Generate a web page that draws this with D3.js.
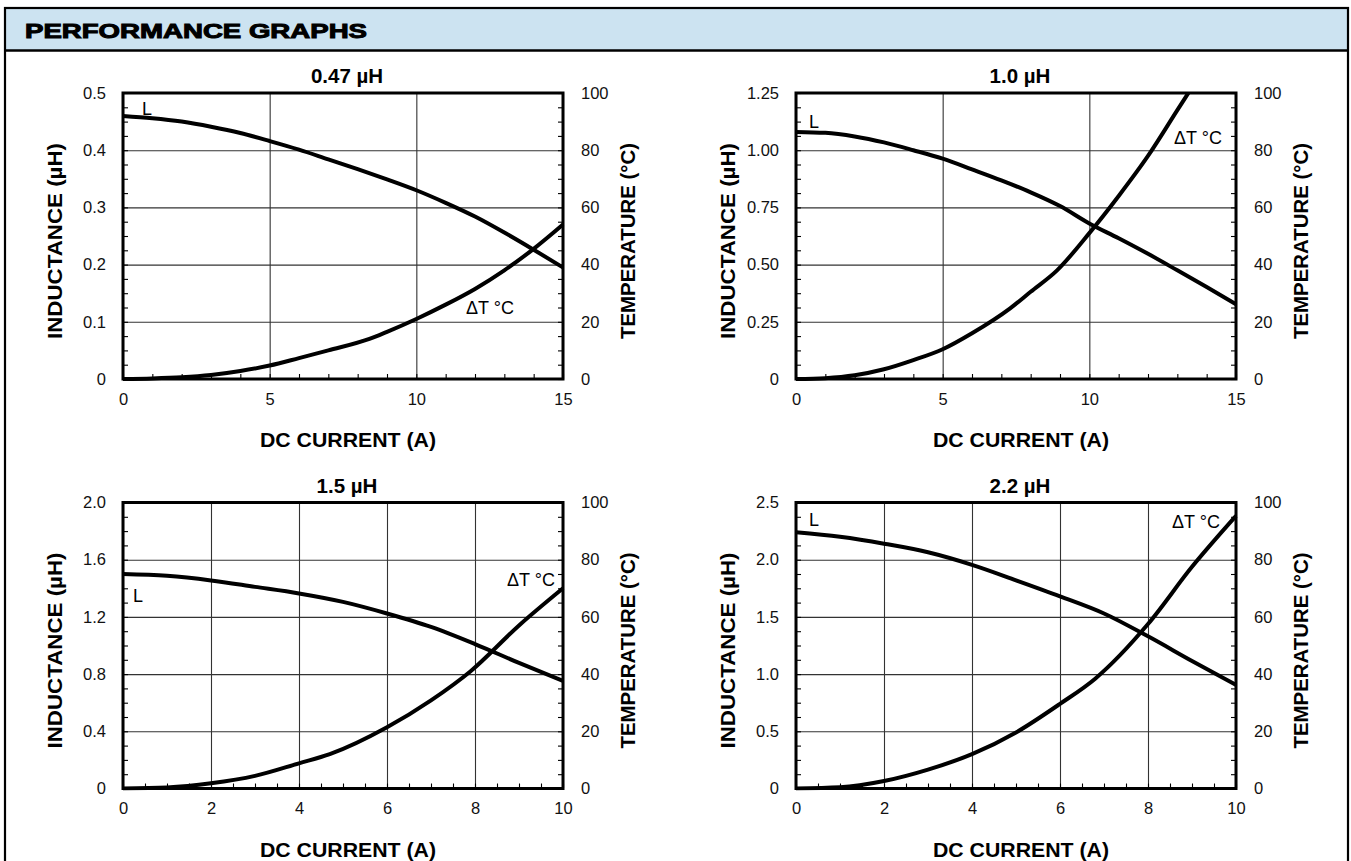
<!DOCTYPE html>
<html>
<head>
<meta charset="utf-8">
<script src="https://cdn.jsdelivr.net/npm/d3@7"></script>
<style>
  body { margin: 0; background: #fff; }
  svg { display: block; font-family: "Liberation Sans", Arial, Helvetica, sans-serif; }
</style>
</head>
<body>
<svg id="chart" width="1351" height="861"></svg>
<script>
// ---- data ----
// 0.47 uH
const amps047L = [0, 1, 2, 3, 4, 5, 6, 7, 8, 9, 10, 11, 12, 13, 14, 15];
const ind047 = [0.460, 0.456, 0.450, 0.441, 0.430, 0.416, 0.401, 0.384, 0.367, 0.349, 0.330, 0.308, 0.284, 0.256, 0.226, 0.195];
const amps047T = [0, 1, 2, 3, 4, 5, 6, 7, 8.4, 9, 10, 11, 12, 13, 14, 15];
const temp047 = [0, 0.2, 0.6, 1.4, 2.8, 4.7, 7.3, 10, 14, 16.5, 21, 26, 31.5, 38, 45.5, 54];

// 1.0 uH
const amps10L = [0, 1, 2, 3, 4, 5, 6, 7, 8, 9, 10, 11, 12, 13, 14, 15];
const ind10 = [1.080, 1.076, 1.060, 1.034, 1.000, 0.963, 0.916, 0.868, 0.816, 0.756, 0.680, 0.615, 0.547, 0.475, 0.402, 0.327];
const amps10T = [0, 1, 2, 3, 4, 5, 6, 7.3, 8, 8.9, 10, 11, 12, 13, 13.5];
const temp10 = [0, 0.3, 1.3, 3.4, 6.6, 10.4, 16, 24.7, 30.5, 38, 51, 64, 78, 94, 102];

// 1.5 uH
const amps15L = [0, 1, 2, 3, 4, 5, 6, 7, 8, 9, 10];
const ind15 = [1.500, 1.487, 1.455, 1.410, 1.364, 1.305, 1.224, 1.130, 1.010, 0.878, 0.752];
const amps15T = [0, 1, 2, 3, 4, 4.7, 6, 7, 7.9, 9, 10];
const temp15 = [0, 0.35, 1.8, 4.4, 8.8, 12, 21.4, 30.8, 41, 57, 70];

// 2.2 uH
const amps22L = [0, 1, 2, 3, 4, 5, 6, 7, 8, 9, 10];
const ind22 = [2.24, 2.20, 2.14, 2.065, 1.955, 1.82, 1.68, 1.53, 1.33, 1.115, 0.905];
const amps22T = [0, 1, 2, 3, 4, 5, 6, 6.8, 8, 9, 10];
const temp22 = [0, 0.4, 2.6, 6.6, 12, 19.6, 29.6, 38.4, 57.5, 77.5, 95.3];

// tick labels
const indTicks047 = ["0", "0.1", "0.2", "0.3", "0.4", "0.5"];
const indTicks10 = ["0", "0.25", "0.50", "0.75", "1.00", "1.25"];
const indTicks15 = ["0", "0.4", "0.8", "1.2", "1.6", "2.0"];
const indTicks22 = ["0", "0.5", "1.0", "1.5", "2.0", "2.5"];
const tempTicks = ["0", "20", "40", "60", "80", "100"];
const ampTicks15 = ["0", "5", "10", "15"];
const ampTicks10 = ["0", "2", "4", "6", "8", "10"];

const panels = [
    { title: "0.47 µH", x: 123, y: 93, xMax: 15, yMax: 0.5, xLab: ampTicks15, yLab: indTicks047, xMinor: 1,
      L: [amps047L, ind047], T: [amps047T, temp047], lPos: [147, 115], tPos: [490, 314] },
    { title: "1.0 µH", x: 796, y: 93, xMax: 15, yMax: 1.25, xLab: ampTicks15, yLab: indTicks10, xMinor: 1,
      L: [amps10L, ind10], T: [amps10T, temp10], lPos: [814, 128], tPos: [1198, 144] },
    { title: "1.5 µH", x: 123, y: 502.5, xMax: 10, yMax: 2.0, xLab: ampTicks10, yLab: indTicks15, xMinor: 0.5,
      L: [amps15L, ind15], T: [amps15T, temp15], lPos: [138, 602], tPos: [531, 586] },
    { title: "2.2 µH", x: 796, y: 502.5, xMax: 10, yMax: 2.5, xLab: ampTicks10, yLab: indTicks22, xMinor: 0.5,
      L: [amps22L, ind22], T: [amps22T, temp22], lPos: [814, 526], tPos: [1196, 528] }
];

const W = 440, H = 286;
const svg = d3.select("#chart");

// === page frame + header ===
svg.append("rect").attr("x", 5).attr("y", 8).attr("width", 1343).attr("height", 42.5)
    .attr("fill", "#cce3f1");
svg.append("rect").attr("x", 5).attr("y", 8).attr("width", 1343).attr("height", 870)
    .attr("fill", "none").attr("stroke", "#000").attr("stroke-width", 2.2);
svg.append("line").attr("x1", 5).attr("x2", 1348).attr("y1", 50.5).attr("y2", 50.5)
    .attr("stroke", "#000").attr("stroke-width", 2.4);
svg.append("text").attr("x", 25).attr("y", 38)
    .attr("font-size", 20.5).attr("font-weight", 900)
    .attr("stroke", "#000").attr("stroke-width", 1)
    .attr("textLength", 342).attr("lengthAdjust", "spacingAndGlyphs")
    .text("PERFORMANCE GRAPHS");

panels.forEach((p, idx) => {
    const g = svg.append("g").attr("transform", `translate(${p.x},${p.y})`);
    const x = d3.scaleLinear().domain([0, p.xMax]).range([0, W]);
    const yL = d3.scaleLinear().domain([0, p.yMax]).range([H, 0]);
    const yT = d3.scaleLinear().domain([0, 100]).range([H, 0]);

    const xMajor = p.xLab.map(Number);
    const yMajor = d3.range(6).map(i => p.yMax * i / 5);
    const xMinor = d3.range(0, p.xMax + 1e-9, p.xMinor);
    const yMinor = d3.range(0, 21).map(i => p.yMax * i / 20);
    const tMinor = d3.range(0, 101, 5);

    // grid
    g.append("g").attr("class", "grid").attr("transform", `translate(0,${H})`)
        .call(d3.axisBottom(x).tickValues(xMajor).tickSize(-H).tickFormat(""));
    g.append("g").attr("class", "grid")
        .call(d3.axisLeft(yL).tickValues(yMajor).tickSize(-W).tickFormat(""));
    g.selectAll(".grid path").remove();
    g.selectAll(".grid line").attr("stroke", "#333").attr("stroke-width", 1.1);

    // minor ticks, pointing inward
    const minor = [
        g.append("g").attr("transform", `translate(0,${H})`).call(d3.axisBottom(x).tickValues(xMinor).tickSize(-5).tickFormat("")),
        g.append("g").call(d3.axisLeft(yL).tickValues(yMinor).tickSize(-5).tickFormat("")),
        g.append("g").attr("transform", `translate(${W},0)`).call(d3.axisRight(yT).tickValues(tMinor).tickSize(-5).tickFormat(""))
    ];
    minor.forEach(a => {
        a.select("path").remove();
        a.selectAll("line").attr("stroke", "#000").attr("stroke-width", 1.1);
    });

    // tick labels
    const labAxes = [
        g.append("g").attr("transform", `translate(0,${H})`)
            .call(d3.axisBottom(x).tickValues(xMajor).tickSize(0).tickPadding(14).tickFormat((d, i) => p.xLab[i])),
        g.append("g")
            .call(d3.axisLeft(yL).tickValues(yMajor).tickSize(0).tickPadding(17).tickFormat((d, i) => p.yLab[i])),
        g.append("g").attr("transform", `translate(${W},0)`)
            .call(d3.axisRight(yT).tickValues(d3.range(0, 101, 20)).tickSize(0).tickPadding(18).tickFormat((d, i) => tempTicks[i]))
    ];
    labAxes.forEach(a => {
        a.select("path").remove();
        a.selectAll("text").attr("font-size", 16.5).attr("fill", "#111")
            .attr("font-family", "'Liberation Sans', Arial, sans-serif");
    });

    // frame
    g.append("rect").attr("width", W).attr("height", H)
        .attr("fill", "none").attr("stroke", "#000").attr("stroke-width", 3);

    // curves
    const clipId = "clip" + idx;
    g.append("clipPath").attr("id", clipId).append("rect")
        .attr("x", -2).attr("y", 0).attr("width", W + 4).attr("height", H + 2);
    const lineL = d3.line().x(d => x(d[0])).y(d => yL(d[1])).curve(d3.curveMonotoneX);
    const lineT = d3.line().x(d => x(d[0])).y(d => yT(d[1])).curve(d3.curveMonotoneX);
    g.append("path").datum(d3.zip(p.L[0], p.L[1])).attr("d", lineL)
        .attr("clip-path", `url(#${clipId})`)
        .attr("fill", "none").attr("stroke", "#000").attr("stroke-width", 4);
    g.append("path").datum(d3.zip(p.T[0], p.T[1])).attr("d", lineT)
        .attr("clip-path", `url(#${clipId})`)
        .attr("fill", "none").attr("stroke", "#000").attr("stroke-width", 4);

    // titles
    g.append("text").attr("x", W / 2 + 4).attr("y", -10).attr("text-anchor", "middle")
        .attr("font-size", 20.5).attr("font-weight", "bold").text(p.title);
    g.append("text").attr("x", W / 2 + 5).attr("y", H + 68).attr("text-anchor", "middle")
        .attr("font-size", 21).attr("font-weight", "bold")
        .attr("textLength", 176).attr("lengthAdjust", "spacingAndGlyphs")
        .text("DC CURRENT (A)");
    g.append("text").attr("transform", `translate(-61,${H / 2 + 5}) rotate(-90)`)
        .attr("text-anchor", "middle").attr("font-size", 21).attr("font-weight", "bold")
        .attr("textLength", 196).attr("lengthAdjust", "spacingAndGlyphs")
        .text("INDUCTANCE (µH)");
    g.append("text").attr("transform", `translate(${W + 72},${H / 2 + 5}) rotate(-90)`)
        .attr("text-anchor", "middle").attr("font-size", 21).attr("font-weight", "bold")
        .attr("textLength", 196).attr("lengthAdjust", "spacingAndGlyphs")
        .text("TEMPERATURE (°C)");

    // curve labels
    svg.append("text").attr("x", p.lPos[0]).attr("y", p.lPos[1]).attr("text-anchor", "middle")
        .attr("font-size", 18).text("L");
    svg.append("text").attr("x", p.tPos[0]).attr("y", p.tPos[1]).attr("text-anchor", "middle")
        .attr("font-size", 18).text("ΔT °C");
});
</script>
</body>
</html>
